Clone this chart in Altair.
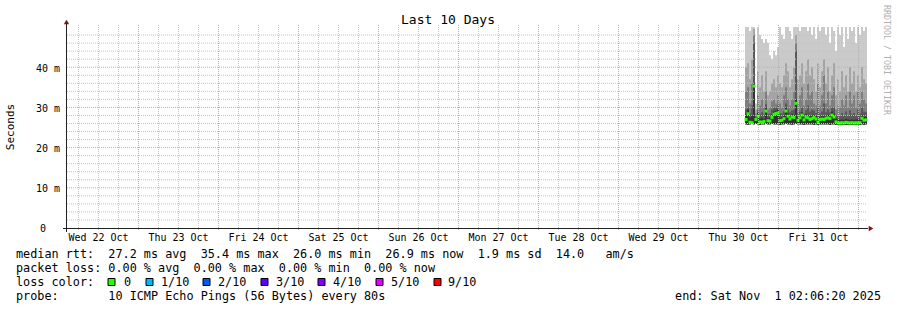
import altair as alt
import pandas as pd

# ---------------- data (milliseconds) ----------------
median_ms = [27.0, 28.4, 26.3, 26.2, 35.3, 27.0, 27.8, 26.4, 26.3, 26.5,
             29.1, 26.7, 26.6, 27.5, 28.3, 28.5, 28.6, 26.7, 26.8, 27.2,
             29.1, 27.8, 27.1, 27.6, 27.5, 31.0, 26.8, 27.4, 28.1, 26.9,
             27.6, 27.4, 27.0, 27.2, 27.5, 27.1, 26.3, 27.0, 27.1, 27.0,
             27.3, 27.4, 27.2, 28.1, 27.6, 26.4, 26.1, 26.1, 26.2, 26.1,
             26.3, 26.2, 26.1, 26.2, 26.1, 26.2, 26.1, 26.2, 27.3, 26.8, 26.9]
ping_max = [50, 50, 49, 50, 50, 31, 50, 48, 47, 46,
            47, 46, 43, 42, 44, 43, 45, 50, 48, 47,
            50, 50, 49, 47, 50, 50, 50, 49, 50, 50,
            50, 49, 50, 48, 50, 47, 50, 49, 50, 50,
            48, 50, 46, 50, 49, 44, 50, 48, 50, 45,
            50, 47, 50, 49, 50, 46, 50, 48, 50, 49, 50]
ping_9 = [40, 41, 37, 42, 49.5, 29.5, 39, 35, 38, 34,
          39, 33, 34, 36, 37, 35, 38, 36, 35, 38,
          41, 39, 35, 37, 40, 48, 37, 38, 41, 36,
          39, 42, 38, 40, 37, 34, 41, 35, 39, 42,
          36, 40, 34, 38, 41, 33, 37, 34, 39, 35,
          38, 34, 40, 36, 39, 34, 38, 35, 40, 37, 36]
ping_8 = [34, 35, 31, 36, 48, 28.5, 33, 30.5, 32, 30,
          34, 29.5, 30, 31.5, 32, 31, 33, 31, 30, 33,
          35, 32, 30.5, 32, 34, 46, 31, 33, 35, 30.5,
          32, 36, 33, 34, 31, 30.5, 36, 30.5, 33, 38,
          31, 34, 30.5, 33, 35, 29.5, 30.5, 30, 32, 30.5,
          33, 30, 34, 31, 33, 30, 34, 31, 34, 32, 31]
ping_7 = [29.5, 30, 28.5, 30.5, 46, 27.8, 29.3, 28.3, 28.8, 28.2,
          30.8, 28.3, 28.5, 29.5, 30, 30, 30.5, 28.6, 28.5, 29,
          31, 29.5, 28.8, 29.2, 29.5, 44, 28.6, 29, 30, 28.5,
          29.3, 30.5, 29, 29.5, 29.2, 28.6, 30, 28.5, 29, 31,
          28.8, 29.5, 28.8, 30, 30, 28.2, 28, 27.8, 28.6, 28,
          29, 27.9, 29.2, 28.3, 28.6, 28, 29.5, 28.5, 30, 29, 28.8]
ping_6 = [28.5, 29.5, 27.5, 28.0, 36.0, 27.2, 28.6, 27.2, 27.4, 27.0,
          30.0, 27.3, 27.5, 28.3, 29.0, 29.2, 29.5, 27.5, 27.6, 28.0,
          30.0, 28.5, 27.8, 28.3, 28.2, 32.0, 27.5, 28.0, 28.8, 27.6,
          28.3, 28.0, 27.8, 28.0, 28.2, 27.8, 27.2, 27.6, 27.8, 27.8,
          28.0, 28.2, 28.0, 29.0, 28.5, 27.2, 27.0, 26.9, 27.0, 26.9,
          27.1, 27.0, 26.9, 27.0, 26.9, 27.0, 27.1, 27.0, 28.2, 27.6, 27.7]
ping_min = [25.8, 25.7, 25.8, 25.9, 25.8, 25.9, 25.8, 25.7, 25.8, 25.8,
            25.9, 25.8, 25.8, 25.9, 25.8, 25.8, 25.8, 25.7, 25.8, 25.8,
            25.9, 25.8, 25.8, 25.7, 25.8, 25.9, 25.8, 25.8, 25.8, 25.7,
            25.8, 25.8, 25.8, 25.8, 25.7, 25.8, 25.7, 25.8, 25.8, 25.8,
            25.8, 25.8, 25.7, 25.8, 25.8, 25.7, 25.6, 25.7, 25.7, 25.6,
            25.7, 25.7, 25.6, 25.7, 25.6, 25.7, 25.6, 25.7, 25.8, 25.7, 25.8]

y_tick_values = [10, 20, 30, 40]
y_tick_labels = ["10 m", "20 m", "30 m", "40 m"]
y_zero_value = [0]
y_zero_label = ["0"]
day_label_times = ["2025-10-%02d 12:00" % d for d in range(22, 32)]
day_labels = ["Wed 22 Oct", "Thu 23 Oct", "Fri 24 Oct", "Sat 25 Oct", "Sun 26 Oct",
              "Mon 27 Oct", "Tue 28 Oct", "Wed 29 Oct", "Thu 30 Oct", "Fri 31 Oct"]
title_text = "Last 10 Days"
y_title = "Seconds"
side_text = "RRDTOOL / TOBI OETIKER"
line_rtt = "median rtt:  27.2 ms avg  35.4 ms max  26.0 ms min  26.9 ms now  1.9 ms sd  14.0   am/s"
line_loss = "packet loss: 0.00 % avg  0.00 % max  0.00 % min  0.00 % now"
line_lc = "loss color:"
loss_labels = ["0", "1/10", "2/10", "3/10", "4/10", "5/10", "9/10"]
loss_colors = ["#26ff00", "#00b8ff", "#0059ff", "#5e00ff", "#7e00ff", "#dd00ff", "#ff0000"]
line_probe = "probe:       10 ICMP Echo Pings (56 Bytes) every 80s"
line_end = "end: Sat Nov  1 02:06:20 2025"

# ---------------- helpers ----------------
def ms(ts):
    return int(pd.Timestamp(ts).value // 10**6)

STEP = 36 * 60 * 1000
t_start = ms("2025-10-30 13:57:00")
col_t = [t_start + i * STEP for i in range(len(median_ms))]

NB = "\u00a0"
def nb(s):
    return s.replace(" ", NB)

MONO = "DejaVu Sans Mono"
PL, PT = 67, 27
W, H = 800, 201

xscale = alt.Scale(type="utc", domain=[ms("2025-10-22 02:33:00"), ms("2025-11-01 02:33:00")])
yscale = alt.Scale(domain=[0, 50], nice=False, zero=True)

area_df = pd.DataFrame({
    "t": col_t + [col_t[-1] + STEP],
    "p1": ping_min + [ping_min[-1]],
    "p6": ping_6 + [ping_6[-1]],
    "p7": ping_7 + [ping_7[-1]],
    "p8": ping_8 + [ping_8[-1]],
    "p9": ping_9 + [ping_9[-1]],
    "p10": ping_max + [ping_max[-1]],
})
med_df = pd.DataFrame({"t": [t + STEP // 2 for t in col_t], "median": median_ms})

X = lambda f: alt.X(f, scale=xscale, axis=None)
Y = lambda f: alt.Y(f, scale=yscale, axis=None)

layers = []
band_colors = [("p10", "#cacaca"), ("p9", "#a4a4a4"), ("p8", "#7e7e7e"),
               ("p7", "#585858"), ("p6", "#323232")]
for col, c in band_colors:
    layers.append(alt.Chart(area_df).mark_area(
        color=c, interpolate="step-after", opacity=1).encode(
        x=X("t:T"), y=Y(f"{col}:Q"), y2="p1:Q"))

layers.append(alt.Chart(med_df).mark_tick(
    orient="horizontal", size=3, thickness=3, color="#26ff00", opacity=1).encode(
    x=X("t:T"), y=Y("median:Q")))

# grid
minor_y = [v for v in range(2, 51, 2) if v % 10 != 0]
major_y = [10, 20, 30, 40]
six_h = 6 * 3600 * 1000
grid_t = [ms("2025-10-22 06:00") + i * six_h for i in range(40)]
major_t = [t for t in grid_t if (t // six_h) % 4 == 0]
minor_t = [t for t in grid_t if (t // six_h) % 4 != 0]

GRID = "#c4c4c4"
MGRID = "#f29a9a"
dash = [1, 1]
layers.append(alt.Chart(pd.DataFrame({"v": minor_y})).mark_rule(
    color=GRID, strokeDash=dash, strokeWidth=1).encode(
    y=Y("v:Q"), x=alt.value(0), x2=alt.value(W)))
layers.append(alt.Chart(pd.DataFrame({"t": minor_t})).mark_rule(
    color=GRID, strokeDash=dash, strokeWidth=1).encode(
    x=X("t:T"), y=alt.value(-2), y2=alt.value(H + 2)))
layers.append(alt.Chart(pd.DataFrame({"v": major_y})).mark_rule(
    color=MGRID, strokeDash=dash, strokeWidth=1).encode(
    y=Y("v:Q"), x=alt.value(0), x2=alt.value(W)))
layers.append(alt.Chart(pd.DataFrame({"t": major_t})).mark_rule(
    color=MGRID, strokeDash=dash, strokeWidth=1).encode(
    x=X("t:T"), y=alt.value(-2), y2=alt.value(H + 2)))

one = pd.DataFrame({"a": [0]})
# axis lines
layers.append(alt.Chart(one).mark_rule(color="#222222", strokeWidth=1).encode(
    x=alt.value(-4), x2=alt.value(W + 1), y=alt.value(H + 0.5)))
layers.append(alt.Chart(one).mark_rule(color="#222222", strokeWidth=1).encode(
    x=alt.value(-0.5), y=alt.value(H + 4), y2=alt.value(-4)))
# arrows
layers.append(alt.Chart(one).mark_point(shape="triangle-up", filled=True, size=28,
                                        color="#7f1010", opacity=1).encode(
    x=alt.value(-0.5), y=alt.value(-5)))
layers.append(alt.Chart(one).mark_point(shape="triangle-right", filled=True, size=28,
                                        color="#7f1010", opacity=1).encode(
    x=alt.value(W + 4), y=alt.value(H + 0.5)))

# tick labels through the scales
layers.append(alt.Chart(pd.DataFrame({
    "v": y_tick_values, "lab": [nb(s) for s in y_tick_labels]})).mark_text(
    font=MONO, fontSize=10, align="right", baseline="middle", dy=1.5,
    color="#000000").encode(y=Y("v:Q"), x=alt.value(-7), text="lab:N"))
layers.append(alt.Chart(pd.DataFrame({
    "v": y_zero_value, "lab": y_zero_label})).mark_text(
    font=MONO, fontSize=10, align="right", baseline="middle", dy=1,
    color="#000000").encode(y=Y("v:Q"), x=alt.value(-21), text="lab:N"))
layers.append(alt.Chart(pd.DataFrame({
    "t": [ms(d) for d in day_label_times], "lab": [nb(s) for s in day_labels]})).mark_text(
    font=MONO, fontSize=10, align="center", baseline="middle", color="#000000").encode(
    x=X("t:T"), y=alt.value(H + 10), text="lab:N"))


def txt(s, x, y, size=11.8, align="left", angle=0, color="#000000"):
    return alt.Chart(pd.DataFrame({"s": [nb(s)]})).mark_text(
        font=MONO, fontSize=size, align=align, baseline="middle", angle=angle,
        color=color).encode(text="s:N", x=alt.value(x - PL), y=alt.value(y - PT))


layers.append(txt(title_text, 448, 19.5, size=13, align="center"))
layers.append(txt(y_title, 11, 127, size=11, align="center", angle=270))
layers.append(txt(side_text, 886, 5, size=8.3, angle=90, color="#b0b0b0"))
layers.append(txt(line_rtt, 16, 254))
layers.append(txt(line_loss, 16, 268))
layers.append(txt(line_lc, 16, 282))
layers.append(txt(line_probe, 16, 296))
layers.append(txt(line_end, 881, 296, align="right"))

box_x = [111.5, 149.5, 206.5, 264.5, 321.5, 379.5, 437.5]
lab_x = [124, 161, 218, 276, 333, 391, 448]
for bx, lx, lab, c in zip(box_x, lab_x, loss_labels, loss_colors):
    layers.append(alt.Chart(one).mark_point(
        shape="square", filled=True, size=49, fill=c, stroke="#000000",
        strokeWidth=1, opacity=1).encode(x=alt.value(bx - PL), y=alt.value(282 - PT)))
    layers.append(txt(lab, lx, 282))

chart = alt.layer(*layers).properties(
    width=W, height=H,
    autosize=alt.AutoSizeParams(type="none"),
    padding={"left": PL, "top": PT, "right": 897 - PL - W, "bottom": 310 - PT - H},
    background="#ffffff",
).configure_view(stroke=None)

chart.save("out.html", embed_options={"renderer": "svg", "actions": False})
